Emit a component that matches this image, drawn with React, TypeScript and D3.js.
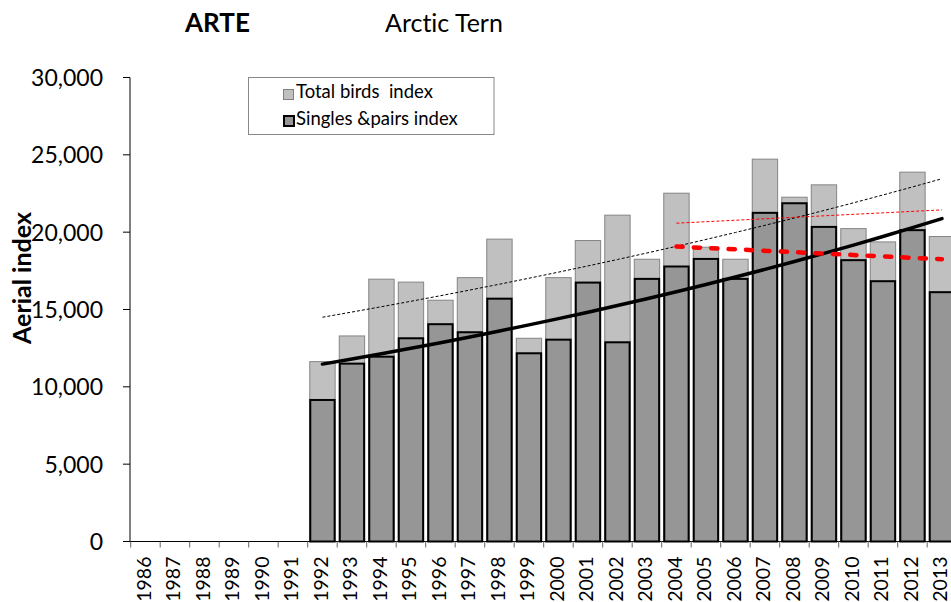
import { useEffect, useRef } from 'react';
import * as d3 from 'd3';

// years on the category axis
const years = d3.range(1986, 2014);

// index values (1992-2013; earlier years have no data)
const dataYears = d3.range(1992, 2014);
const totalBirds = [
  11630, 13290, 16960, 16770, 15600, 17060, 19550, 13140, 17060, 19460, 21100,
  18250, 22520, 19030, 18250, 24720, 22260, 23060, 20230, 19370, 23880, 19720,
];
const singlesPairs = [
  9150, 11500, 11950, 13140, 14050, 13530, 15700, 12170, 13050, 16740, 12880,
  16980, 17780, 18270, 16980, 21250, 21870, 20340, 18190, 16830, 20130, 16120,
];

// recent (2004-2013) linear trends, end values
const recentYears = [2004, 2013];
const recentTotalTrend = [20580, 21440];
const recentSinglesTrend = [19070, 18250];

const yTicks = [0, 5000, 10000, 15000, 20000, 25000, 30000];

const FONT = 'Lato, "Open Sans", sans-serif';

// exponential least-squares fit, like a spreadsheet trendline
const expFit = (xs: number[], ys: number[]) => {
  const lx = d3.mean(xs) as number;
  const ly = d3.mean(ys.map(v => Math.log(v))) as number;
  let sxy = 0;
  let sxx = 0;
  xs.forEach((x, i) => {
    sxy += (x - lx) * (Math.log(ys[i]) - ly);
    sxx += (x - lx) * (x - lx);
  });
  const b = sxy / sxx;
  return (x: number) => Math.exp(ly + b * (x - lx));
};

const App = () => {
  const ref = useRef<SVGSVGElement>(null);

  useEffect(() => {
    const svg = d3.select(ref.current);
    svg.selectAll('*').remove();

    const x0 = 130.7;
    const step = 29.5;
    const x = d3.scaleBand<number>()
      .domain(years)
      .range([x0, x0 + step * years.length])
      .paddingInner(0.14)
      .paddingOuter(0.07);
    const cx = (yr: number) => (x(yr) as number) + x.bandwidth() / 2;

    const y = d3.scaleLinear().domain([0, 30000]).range([541.5, 77.5]);

    // titles
    svg.append('text')
      .attr('x', 185).attr('y', 32)
      .attr('font-family', FONT).attr('font-size', 26).attr('font-weight', 'bold')
      .text('ARTE');
    svg.append('text')
      .attr('x', 385).attr('y', 32)
      .attr('font-family', FONT).attr('font-size', 25)
      .style('font-variant-ligatures', 'none')
      .text('Arctic Tern');

    // y axis title
    svg.append('text')
      .attr('transform', `translate(30.5,278) rotate(-90)`)
      .attr('text-anchor', 'middle')
      .attr('font-family', FONT).attr('font-size', 25).attr('font-weight', 'bold')
      .text('Aerial index');

    // bars: total behind, singles on top
    svg.append('g').selectAll('rect')
      .data(dataYears)
      .enter().append('rect')
      .attr('x', d => x(d) as number)
      .attr('width', x.bandwidth())
      .attr('y', (d, i) => y(totalBirds[i]))
      .attr('height', (d, i) => y(0) - y(totalBirds[i]))
      .attr('fill', '#c0c0c0')
      .attr('stroke', '#858585')
      .attr('stroke-width', 1);

    svg.append('g').selectAll('rect')
      .data(dataYears)
      .enter().append('rect')
      .attr('x', d => (x(d) as number) + 0.5)
      .attr('width', x.bandwidth() - 1)
      .attr('y', (d, i) => y(singlesPairs[i]))
      .attr('height', (d, i) => y(0) - y(singlesPairs[i]))
      .attr('fill', '#969696')
      .attr('stroke', '#000')
      .attr('stroke-width', 2);

    // axes
    const axis = svg.append('g');
    axis.append('line')
      .attr('x1', 130).attr('x2', 951).attr('y1', y(0)).attr('y2', y(0))
      .attr('stroke', '#000');
    axis.append('line')
      .attr('x1', 130).attr('x2', 130).attr('y1', y(30000)).attr('y2', y(0))
      .attr('stroke', '#000');

    axis.selectAll('.ytick')
      .data(yTicks)
      .enter().append('line')
      .attr('x1', 123).attr('x2', 130)
      .attr('y1', d => y(d)).attr('y2', d => y(d))
      .attr('stroke', '#000');
    axis.selectAll('.ylabel')
      .data(yTicks)
      .enter().append('text')
      .attr('x', 103).attr('y', d => y(d) + 8.5)
      .attr('text-anchor', 'end')
      .attr('font-family', FONT).attr('font-size', 23)
      .text(d => d3.format(',')(d));

    axis.selectAll('.xtick')
      .data(d3.range(years.length + 1))
      .enter().append('line')
      .attr('x1', i => x0 + i * step).attr('x2', i => x0 + i * step)
      .attr('y1', y(0)).attr('y2', y(0) + 6)
      .attr('stroke', '#666');
    axis.selectAll('.xlabel')
      .data(years)
      .enter().append('text')
      .attr('transform', d => `translate(${cx(d) + 5.5},${y(0) + 15}) rotate(-90)`)
      .attr('text-anchor', 'end')
      .attr('font-family', FONT).attr('font-size', 19.5)
      .text(d => d);

    // trend lines
    const line = d3.line<number>().x(d => cx(d));
    const totalFit = expFit(dataYears, totalBirds);
    const singlesFit = expFit(dataYears, singlesPairs);

    svg.append('path')
      .attr('d', line.y(d => y(totalFit(d)))(dataYears))
      .attr('fill', 'none').attr('stroke', '#000').attr('stroke-width', 1)
      .attr('stroke-dasharray', '3,2');

    svg.append('path')
      .attr('d', line.y(d => y(singlesFit(d)))(dataYears))
      .attr('fill', 'none').attr('stroke', '#000').attr('stroke-width', 3.5)
      .attr('stroke-linecap', 'round');

    svg.append('path')
      .attr('d', line.y((d, i) => y(recentTotalTrend[i]))(recentYears))
      .attr('fill', 'none').attr('stroke', '#ff0000').attr('stroke-width', 1)
      .attr('stroke-dasharray', '3,2');

    svg.append('path')
      .attr('d', line.y((d, i) => y(recentSinglesTrend[i]))(recentYears))
      .attr('fill', 'none').attr('stroke', '#ff0000').attr('stroke-width', 4.5)
      .attr('stroke-linecap', 'round')
      .attr('stroke-dasharray', '6.2,11.2');

    // legend
    const legend = svg.append('g');
    legend.append('rect')
      .attr('x', 248.5).attr('y', 77.5).attr('width', 245.5).attr('height', 57)
      .attr('fill', '#fff').attr('stroke', '#888');
    legend.append('rect')
      .attr('x', 283.5).attr('y', 89.5).attr('width', 10).attr('height', 10)
      .attr('fill', '#c0c0c0').attr('stroke', '#808080');
    legend.append('rect')
      .attr('x', 284).attr('y', 116).attr('width', 10).attr('height', 10)
      .attr('fill', '#969696').attr('stroke', '#000').attr('stroke-width', 2);
    legend.append('text')
      .attr('x', 296).attr('y', 98)
      .attr('font-family', FONT).attr('font-size', 18.5)
      .style('white-space', 'pre')
      .text('Total birds  index');
    legend.append('text')
      .attr('x', 296).attr('y', 125)
      .attr('font-family', FONT).attr('font-size', 18.5)
      .text('Singles &pairs index');
  }, []);

  return (
    <svg
      ref={ref}
      width={951}
      height={602}
      style={{ position: 'absolute', left: 0, top: 0, background: '#fff' }}
    />
  );
};

export default App;
